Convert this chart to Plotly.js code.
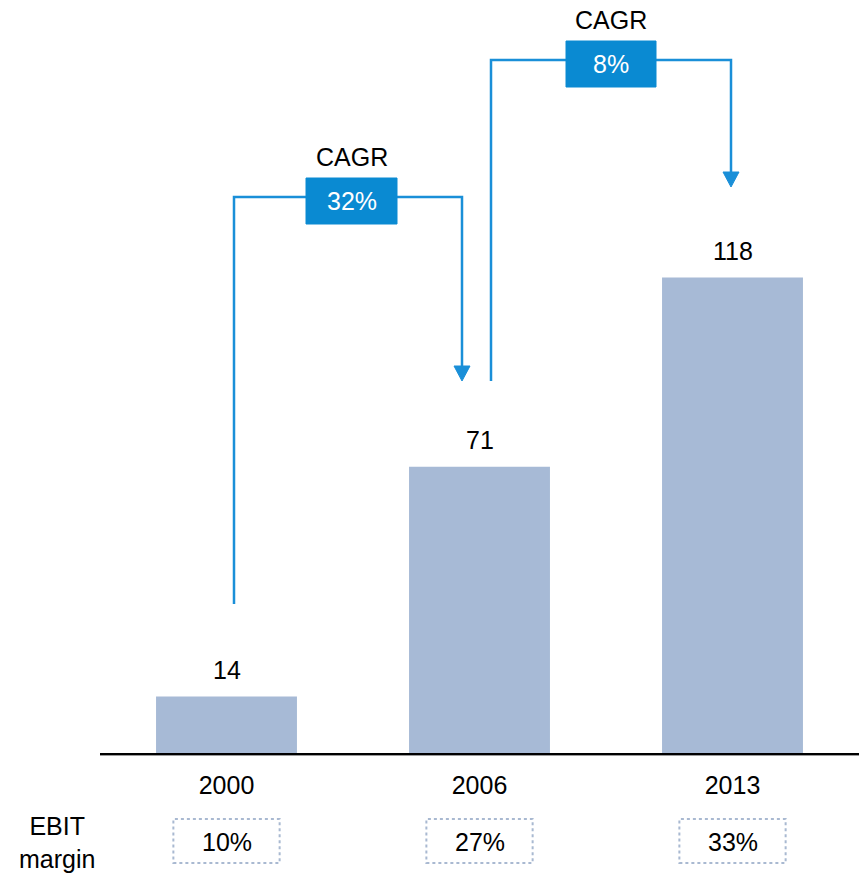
<!DOCTYPE html>
<html>
<head>
<meta charset="utf-8">
<script src="https://cdn.plot.ly/plotly-3.0.1.min.js"></script>
<style>html,body{margin:0;padding:0;background:#fff;}#chart{width:859px;height:874px;}</style>
</head>
<body>
<div id="chart"></div>
<script>
const categories = ['2000', '2006', '2013'];
const revenue = [14, 71, 118];
const ebitMargin = ['10%', '27%', '33%'];
const cagrLabels = ['32%', '8%'];
const ebitLabel = 'EBIT<br>margin';
const cagrTitle = 'CAGR';

const W = 859, H = 874, L = 100, T = 0, baseY = 753;
const plotW = W - L, plotH = baseY - T;
const px = x => (x - L) / plotW;
const py = y => (baseY - y) / plotH;
const FONT = 'Liberation Sans, Arial, sans-serif';
const FS = 25;
const LINE = '#1a8fd8';
const BOX = '#0a8ad2';

const shapes = [];
const annotations = [];

// axis shadow
shapes.push({type: 'line', xref: 'paper', yref: 'paper', x0: 0, x1: 1, y0: py(755.5), y1: py(755.5),
  line: {color: '#9a9a9a', width: 1}});

// value labels (x given as category index)
categories.forEach((c, i) => {
  annotations.push({x: i, y: revenue[i], xref: 'x', yref: 'y', text: String(revenue[i]),
    showarrow: false, yanchor: 'middle', yshift: 26.5, font: {family: FONT, size: FS, color: '#000'}});
});

// CAGR connectors
const connectors = [
  {x0: 234, y0: 604, top: 197, x1: 462, tip: 381, boxL: 306, boxR: 397, boxT: 178, boxB: 224},
  {x0: 491, y0: 381, top: 60, x1: 731, tip: 187, boxL: 566, boxR: 656, boxT: 41, boxB: 87}
];
connectors.forEach((c, i) => {
  const path = `M ${px(c.x0)} ${py(c.y0)} L ${px(c.x0)} ${py(c.top)} L ${px(c.x1)} ${py(c.top)} L ${px(c.x1)} ${py(c.tip - 12)}`;
  shapes.push({type: 'path', xref: 'paper', yref: 'paper', path: path, line: {color: LINE, width: 2.5}});
  const tri = `M ${px(c.x1 - 8)} ${py(c.tip - 15)} L ${px(c.x1 + 8)} ${py(c.tip - 15)} L ${px(c.x1)} ${py(c.tip)} Z`;
  shapes.push({type: 'path', xref: 'paper', yref: 'paper', path: tri, fillcolor: LINE, line: {color: LINE, width: 1}});
  shapes.push({type: 'rect', xref: 'paper', yref: 'paper', x0: px(c.boxL), x1: px(c.boxR), y0: py(c.boxB), y1: py(c.boxT),
    fillcolor: BOX, line: {color: BOX, width: 1}});
  annotations.push({xref: 'paper', yref: 'paper', x: px((c.boxL + c.boxR) / 2), y: py((c.boxT + c.boxB) / 2),
    text: cagrLabels[i], showarrow: false, xanchor: 'center', yanchor: 'middle',
    font: {family: FONT, size: FS, color: '#fff'}});
  annotations.push({xref: 'paper', yref: 'paper', x: px((c.boxL + c.boxR) / 2), y: py(c.boxT - 21),
    text: cagrTitle, showarrow: false, xanchor: 'center', yanchor: 'middle',
    font: {family: FONT, size: FS, color: '#000'}});
});

// EBIT margin
annotations.push({xref: 'paper', yref: 'paper', x: px(57), y: py(843), text: ebitLabel, showarrow: false,
  xanchor: 'center', yanchor: 'middle', font: {family: FONT, size: FS, color: '#000'}});
categories.forEach((c, i) => {
  shapes.push({type: 'rect', xref: 'x', yref: 'paper', x0: i - 0.21, x1: i + 0.21, y0: py(863), y1: py(819),
    line: {color: '#a9b9d1', width: 2, dash: 'dot'}, fillcolor: 'rgba(0,0,0,0)'});
  annotations.push({x: i, xref: 'x', yref: 'paper', y: py(842), text: ebitMargin[i], showarrow: false,
    xanchor: 'center', yanchor: 'middle', font: {family: FONT, size: FS, color: '#000'}});
});

const trace = {
  type: 'bar', x: categories, y: revenue, width: 0.557,
  marker: {color: '#a7bad6', line: {width: 0}}, hoverinfo: 'skip'
};

const layout = {
  width: W, height: H,
  margin: {l: L, r: 0, t: T, b: H - baseY, pad: 0},
  paper_bgcolor: '#fff', plot_bgcolor: '#fff',
  showlegend: false,
  xaxis: {type: 'category', range: [-0.5, 2.5], showline: true, linecolor: '#000', linewidth: 2,
    showgrid: false, zeroline: false, ticks: '', tickfont: {family: FONT, size: FS, color: '#000'},
    ticklabelstandoff: 9, fixedrange: true},
  yaxis: {range: [0, plotH / 4.03], visible: false, showgrid: false, zeroline: false, fixedrange: true},
  shapes: shapes,
  annotations: annotations
};

Plotly.newPlot('chart', [trace], layout, {displayModeBar: false, staticPlot: true});
</script>
</body>
</html>
